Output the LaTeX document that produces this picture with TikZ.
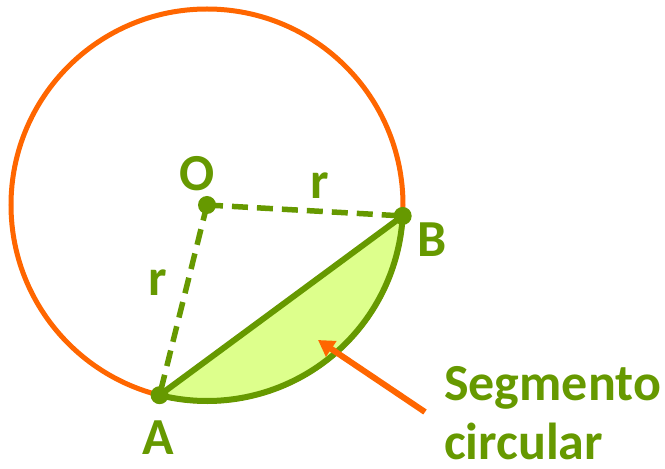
\documentclass[tikz,border=0pt]{standalone}
\usepackage{fontspec}
\setmainfont{Carlito}
\usetikzlibrary{arrows.meta,positioning,calc}
\definecolor{SegGreen}{RGB}{102,153,0}
\definecolor{SegFill}{RGB}{221,255,140}
\definecolor{RimOrange}{RGB}{255,102,0}

\begin{document}
\begin{tikzpicture}[x=1pt,y=1pt, every node/.style={font=\fontsize{52}{59}\selectfont\bfseries,text=SegGreen,inner sep=0pt}, lbl/.style={font=\fontsize{52}{59}\selectfont\bfseries}, rad/.style={SegGreen,line width=5.5pt,dash pattern=on 16pt off 9pt}, dot/.style={circle,fill=SegGreen,minimum size=18pt}]
\useasboundingbox (0,0) rectangle (665,469);
\coordinate (O) at (207,264);
\coordinate (A) at ($(O)+(256:196)$);
\coordinate (B) at ($(O)+(356.8:196)$);
\draw[RimOrange,line width=5pt] (O) circle[radius=196];
\fill[SegFill] (A) arc[start angle=256,end angle=356.8,radius=196] -- cycle;
\draw[SegGreen,line width=6pt] (A) arc[start angle=256,end angle=356.8,radius=196];
\draw[SegGreen,line width=6pt] (A) -- (B);
\draw[rad] (O) -- (A);
\draw[rad] (O) -- (B);
\node[dot] (o) at (O) {};
\node[dot] (a) at (A) {};
\node[dot] (b) at (B) {};
\node[lbl] (lo) at (197,295) {O};
\node[lbl] (lb) at (432,229) {B};
\node[lbl] (la) at (158,31) {A};
\node[lbl] (r1) at (320,283) {r};
\node[lbl] (r2) at (158,186) {r};
\node[anchor=base west,align=left] (seg) at (444,9) {Segmento\\circular};
\coordinate (tail) at (425,57);
\coordinate (tip) at (318,129);
\draw[RimOrange,line width=6pt,-{Triangle[length=16pt,width=18pt]}] (tail) -- (tip);
\end{tikzpicture}
\end{document}
